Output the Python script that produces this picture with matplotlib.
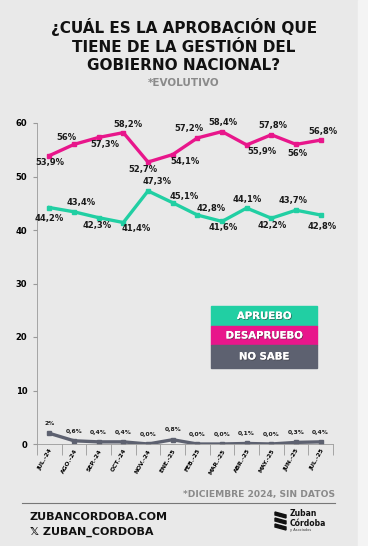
import numpy as np
import matplotlib.pyplot as plt
import matplotlib.patheffects as pe
from matplotlib.patches import Rectangle, Polygon

# data
meses = ['JUL.-24', 'AGO.-24', 'SEP.-24', 'OCT.-24', 'NOV.-24', 'ENE.-25',
         'FEB.-25', 'MAR.-25', 'ABR.-25', 'MAY.-25', 'JUN.-25', 'JUL.-25']
desaprueba = [53.9, 56, 57.3, 58.2, 52.7, 54.1, 57.2, 58.4, 55.9, 57.8, 56, 56.8]
aprueba = [44.2, 43.4, 42.3, 41.4, 47.3, 45.1, 42.8, 41.6, 44.1, 42.2, 43.7, 42.8]
no_sabe = [2, 0.6, 0.4, 0.4, 0.0, 0.8, 0.0, 0.0, 0.1, 0.0, 0.3, 0.4]

desaprueba_lbl = ['53,9%', '56%', '57,3%', '58,2%', '52,7%', '54,1%', '57,2%',
                  '58,4%', '55,9%', '57,8%', '56%', '56,8%']
aprueba_lbl = ['44,2%', '43,4%', '42,3%', '41,4%', '47,3%', '45,1%', '42,8%',
               '41,6%', '44,1%', '42,2%', '43,7%', '42,8%']
no_sabe_lbl = ['2%', '0,6%', '0,4%', '0,4%', '0,0%', '0,8%', '0,0%', '0,0%',
               '0,1%', '0,0%', '0,3%', '0,4%']

# label offsets in pixels (dx, dy up)
des_off = [(1, -6.5), (-8, 7), (6, -7.5), (5, 8.6), (-5, -7), (12, -6.5), (-8, 9),
           (1, 9.5), (15, -7), (2, 9), (1, -8.6), (2, 9)]
apr_off = [(0, -10.5), (7, 9), (-2, -8), (13, -5.5), (9, 9), (12, 6.7), (14, 7),
           (1, -5.6), (1, 9), (1, -7), (-3, 10), (1, -11)]
PX = 72 / 100

VERDE = '#21cfa3'
ROSA = '#e8168b'
GRIS = '#5d6170'
FONT = 'DejaVu Sans'

fig = plt.figure(figsize=(3.68, 5.46), dpi=100)
fig.patch.set_facecolor('#e9e9e9')
fig.patches.append(Rectangle((358 / 368, 0), 10 / 368, 1, transform=fig.transFigure,
                             color='#f4f4f4', zorder=0))

ax = fig.add_axes([37 / 368, 102 / 546, 296 / 368, 321 / 546])
ax.set_facecolor('none')
x = np.arange(len(meses))

ax.plot(x, desaprueba, color=ROSA, lw=2.4, marker='s', ms=3.5)
ax.plot(x, aprueba, color=VERDE, lw=2.4, marker='s', ms=3.5)
ax.plot(x, no_sabe, color=GRIS, lw=2.4, marker='s', ms=3.5)

for i in x:
    dx, dy = des_off[i]
    ax.annotate(desaprueba_lbl[i], (i, desaprueba[i]), xytext=(dx * PX, dy * PX),
                textcoords='offset points', ha='center', va='center',
                fontsize=6, fontweight='bold', family=FONT, color='#1a1a1a')
    dx, dy = apr_off[i]
    ax.annotate(aprueba_lbl[i], (i, aprueba[i]), xytext=(dx * PX, dy * PX),
                textcoords='offset points', ha='center', va='center',
                fontsize=6, fontweight='bold', family=FONT, color='#1a1a1a')
    ax.annotate(no_sabe_lbl[i], (i, no_sabe[i]), xytext=(0, 7),
                textcoords='offset points', ha='center', va='center',
                fontsize=4.3, fontweight='bold', family=FONT, color='#1a1a1a')

ax.set_xlim(-0.5, 11.5)
ax.set_ylim(0, 60)
ax.set_yticks([0, 10, 20, 30, 40, 50, 60])
ax.set_yticklabels(['0', '10', '20', '30', '40', '50', '60'], fontsize=6,
                   fontweight='bold', family=FONT)
ax.tick_params(axis='y', length=3, color='#999999', pad=4)
ax.set_xticks(x)
ax.set_xticklabels(meses, rotation=60, ha='right', rotation_mode='anchor',
                   fontsize=4.3, fontweight='bold', family=FONT)
ax.tick_params(axis='x', length=0, pad=3)
ax.set_xticks(np.arange(-0.5, 12, 1), minor=True)
ax.tick_params(axis='x', which='minor', length=8, color='#999999', width=0.6)
for s in ['top', 'right']:
    ax.spines[s].set_visible(False)
ax.spines['left'].set_color('#999999')
ax.spines['bottom'].set_color('#999999')
ax.spines['left'].set_linewidth(0.6)
ax.spines['bottom'].set_linewidth(0.6)

# title
fig.text(0.5, 1 - 27 / 546, '¿CUÁL ES LA APROBACIÓN QUE', ha='center', va='center',
         fontsize=11, fontweight='bold', family=FONT, color='#111111')
fig.text(0.5, 1 - 48 / 546, 'TIENE DE LA GESTIÓN DEL', ha='center', va='center',
         fontsize=11, fontweight='bold', family=FONT, color='#111111')
fig.text(0.5, 1 - 66 / 546, 'GOBIERNO NACIONAL?', ha='center', va='center',
         fontsize=11, fontweight='bold', family=FONT, color='#111111')
fig.text(0.5, 1 - 83 / 546, '*EVOLUTIVO', ha='center', va='center',
         fontsize=7.5, fontweight='bold', family=FONT, color='#8a8a8a')

# legend boxes
leyenda = [('APRUEBO', VERDE), ('DESAPRUEBO', ROSA), ('NO SABE', GRIS)]
tops = [306, 326, 345, 368]
for k, (txt, col) in enumerate(leyenda):
    y0, y1 = tops[k], tops[k + 1]
    fig.patches.append(Rectangle((211 / 368, 1 - y1 / 546), 106 / 368, (y1 - y0) / 546,
                                 transform=fig.transFigure, color=col, zorder=2))
    fig.text(264 / 368, 1 - (y0 + y1) / 2 / 546, txt, ha='center', va='center',
             fontsize=7.3, fontweight='bold', family=FONT, color='white', zorder=3,
             path_effects=[pe.withSimplePatchShadow(offset=(0.6, -0.6),
                                                     shadow_rgbFace='#333333', alpha=0.6),
                           pe.Normal()])

# footer
fig.text(335 / 368, 1 - 495 / 546, '*DICIEMBRE 2024, SIN DATOS', ha='right', va='center',
         fontsize=6.6, fontweight='bold', family=FONT, color='#8a8a8a')
fig.add_artist(plt.Line2D([22 / 368, 335 / 368], [1 - 503 / 546] * 2,
                          transform=fig.transFigure, color='#777777', lw=0.8))
fig.text(30 / 368, 1 - 517 / 546, 'ZUBANCORDOBA.COM', ha='left', va='center',
         fontsize=8, fontweight='bold', family=FONT, color='#111111')
fig.text(30 / 368, 1 - 532 / 546, '𝕏 ZUBAN_CORDOBA', ha='left', va='center',
         fontsize=8, fontweight='bold', family=[FONT, 'Noto Sans'], color='#111111')

# logo
for j in range(3):
    y = 512 + j * 6
    pts = [(275, y), (286, y + 3), (286, y + 6), (275, y + 3)]
    fig.patches.append(Polygon([(px / 368, 1 - py / 546) for px, py in pts],
                               transform=fig.transFigure, color='#111111'))
fig.text(290 / 368, 1 - 514 / 546, 'Zuban', ha='left', va='center', fontsize=5.5,
         fontweight='bold', family=FONT, color='#111111')
fig.text(290 / 368, 1 - 523 / 546, 'Córdoba', ha='left', va='center', fontsize=5.5,
         fontweight='bold', family=FONT, color='#111111')
fig.text(290 / 368, 1 - 530 / 546, 'y Asociados', ha='left', va='center', fontsize=2.5,
         family=FONT, color='#333333')

fig.savefig('out.png', dpi=100, facecolor=fig.get_facecolor())
